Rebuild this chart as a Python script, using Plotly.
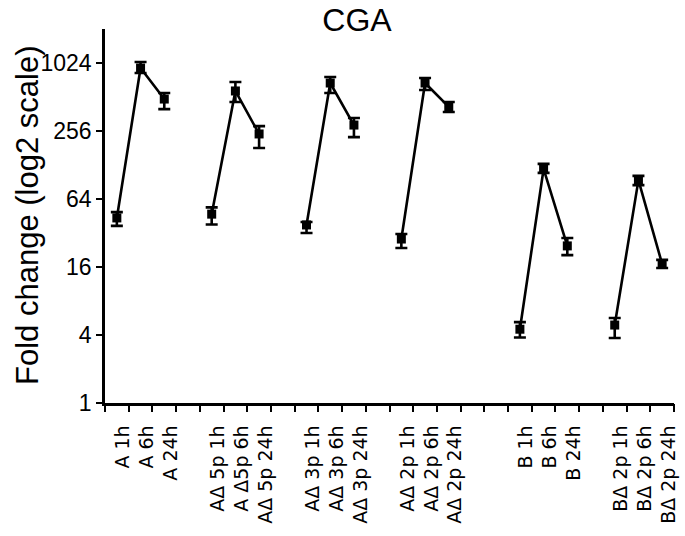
import plotly.graph_objects as go
import math

# ---- data ----
groups = ["A", "AΔ5p", "AΔ3p", "AΔ2p", "B", "BΔ2p"]
labels = [
    ["A 1h", "A 6h", "A 24h"],
    ["AΔ 5p 1h", "A Δ5p 6h", "AΔ 5p 24h"],
    ["AΔ 3p 1h", "AΔ 3p 6h", "AΔ 3p 24h"],
    ["AΔ 2p 1h", "AΔ 2p 6h", "AΔ 2p 24h"],
    ["B 1h", "B 6h", "B 24h"],
    ["BΔ 2p 1h", "BΔ 2p 6h", "BΔ 2p 24h"],
]
# slot index of the first point of each group (gaps between groups)
group_start = [0, 4, 8, 12, 17, 21]
n_slots = 24

mean = [
    [43.5, 924, 491],
    [47, 579, 241],
    [37.7, 681, 289],
    [28.3, 681, 418],
    [4.5, 118, 24.6],
    [4.9, 94, 17],
]
err_hi = [
    [49, 1045, 555],
    [54, 695, 283],
    [40, 770, 334],
    [31.4, 754, 462],
    [5.2, 131, 28.9],
    [5.65, 102.5, 18.5],
]
err_lo = [
    [37, 836, 400],
    [38, 462, 181],
    [32, 555, 226],
    [23.6, 591, 377],
    [3.8, 109, 20.4],
    [3.76, 85, 15.7],
]

y_ticks = [1, 4, 16, 64, 256, 1024]
y_top = 2048

W, H = 685, 536

fig = go.Figure()

tickvals, ticktext = [], []
for g, name in enumerate(groups):
    xs = [group_start[g] + i for i in range(3)]
    ys = mean[g]
    plus = [h - m for h, m in zip(err_hi[g], ys)]
    minus = [m - l for m, l in zip(ys, err_lo[g])]
    fig.add_trace(go.Scatter(
        x=xs, y=ys, mode="lines+markers", name=name,
        line=dict(color="black", width=2.6),
        marker=dict(symbol="square", size=9, color="black"),
        error_y=dict(type="data", symmetric=False, array=plus, arrayminus=minus,
                     color="black", thickness=2.6, width=6),
        showlegend=False,
    ))
    tickvals += [x + 0.27 for x in xs]
    ticktext += labels[g]

# invisible trace for the boundary-tick axis
fig.add_trace(go.Scatter(x=[-0.5], y=[1], xaxis="x2", mode="markers",
                         marker=dict(opacity=0), showlegend=False, hoverinfo="skip"))

fig.update_layout(
    width=W, height=H,
    margin=dict(l=105, r=W - 674, t=29, b=H - 403),
    paper_bgcolor="white", plot_bgcolor="white",
    title=dict(text="CGA", x=357 / W, xanchor="center",
               y=1 - 20 / H, yanchor="middle",
               font=dict(family="Liberation Sans, Arial", size=32, color="black")),
    xaxis=dict(
        range=[-0.5, n_slots - 0.5], tickmode="array",
        tickvals=tickvals, ticktext=ticktext, tickangle=-90,
        ticks="outside", ticklen=12, tickcolor="rgba(0,0,0,0)",
        showline=True, linecolor="black", linewidth=2.6,
        showgrid=False, zeroline=False, automargin=False,
        tickfont=dict(family="DejaVu Sans", size=19, color="black"),
    ),
    xaxis2=dict(
        range=[-0.5, n_slots - 0.5], overlaying="x", anchor="y",
        tickmode="array", tickvals=[i - 0.5 for i in range(n_slots + 1)],
        ticks="outside", ticklen=8, tickwidth=2, tickcolor="black",
        showticklabels=False, showline=False, showgrid=False, zeroline=False,
        side="bottom", automargin=False,
    ),
    yaxis=dict(
        type="log", range=[0, math.log10(y_top)],
        tickmode="array", tickvals=y_ticks, ticktext=[str(v) for v in y_ticks],
        ticks="outside", ticklen=6, tickwidth=2, tickcolor="black",
        showline=True, linecolor="black", linewidth=2.6,
        showgrid=False, zeroline=False, automargin=False,
        tickfont=dict(family="Liberation Sans, Arial", size=23, color="black"),
    ),
    annotations=[dict(
        text="Fold change (log2 scale)", textangle=-90,
        xref="paper", yref="paper", x=(27 - 105) / 569, y=0.5,
        xanchor="center", yanchor="middle", showarrow=False,
        font=dict(family="Liberation Sans, Arial", size=31, color="black"),
    )],
)

# remove the browser's default 8px body margin so the figure fills the window
fig.write_html("out.html",
               config={"displayModeBar": False},
               post_script="document.body.style.margin='0px';document.body.style.overflow='hidden';")
